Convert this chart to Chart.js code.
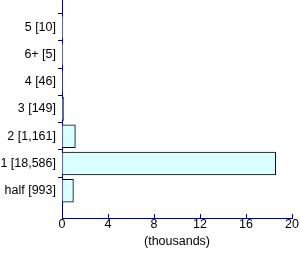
<!DOCTYPE html>
<html>
<head>
<meta charset="utf-8">
<script src="https://cdn.jsdelivr.net/npm/chart.js@4"></script>
<style>
  html, body { margin: 0; padding: 0; background: #fff; }
  #wrap { width: 300px; height: 254px; }
</style>
</head>
<body>
<div id="wrap"><canvas id="myChart" width="300" height="254"></canvas></div>
<script>
// empty slots at both ends keep the gap above "5" and below "half"
const categories = ['', '5 [10]', '6+ [5]', '4 [46]', '3 [149]', '2 [1,161]', '1 [18,586]', 'half [993]', '']
const values = [null, 0.010, 0.005, 0.046, 0.149, 1.161, 18.586, 0.993, null]
const xTicks = [0, 4, 8, 12, 16, 20]

const navy = '#000080'
Chart.defaults.font.family = '"Liberation Sans", Arial, sans-serif'
Chart.defaults.font.size = 12.5
Chart.defaults.color = '#000'

const ctx = document.getElementById('myChart')
new Chart(ctx, {
  type: 'bar',
  data: {
    labels: categories,
    datasets: [{
      data: values,
      backgroundColor: '#d9ffff',
      borderColor: '#000',
      borderWidth: 1,
      barThickness: 23
    }]
  },
  options: {
    indexAxis: 'y',
    responsive: false,
    animation: false,
    layout: { padding: { right: 8, top: 0, bottom: 0 } },
    plugins: { legend: { display: false }, tooltip: { enabled: false } },
    scales: {
      y: {
        offset: false,
        afterFit: s => { s.width = 62; s.paddingTop = 0; s.paddingBottom = 0 },
        grid: {
          drawOnChartArea: false,
          tickLength: 4,
          color: c => (c.index === 0 || c.index === categories.length - 1) ? 'rgba(0,0,0,0)' : navy
        },
        border: { color: navy },
        ticks: { padding: 2 }
      },
      x: {
        min: 0,
        max: 20,
        afterBuildTicks: s => { s.ticks = xTicks.map(v => ({ value: v })) },
        afterFit: s => { s.height = 36; s.paddingLeft = 0; s.paddingRight = 0 },
        // ticks point up into the plot
        grid: { drawOnChartArea: false, tickLength: -4, color: navy },
        border: { color: navy },
        ticks: { padding: 3, maxRotation: 0 },
        title: { display: true, text: '(thousands)', padding: { top: 0, bottom: 5 } }
      }
    }
  }
})
</script>
</body>
</html>
